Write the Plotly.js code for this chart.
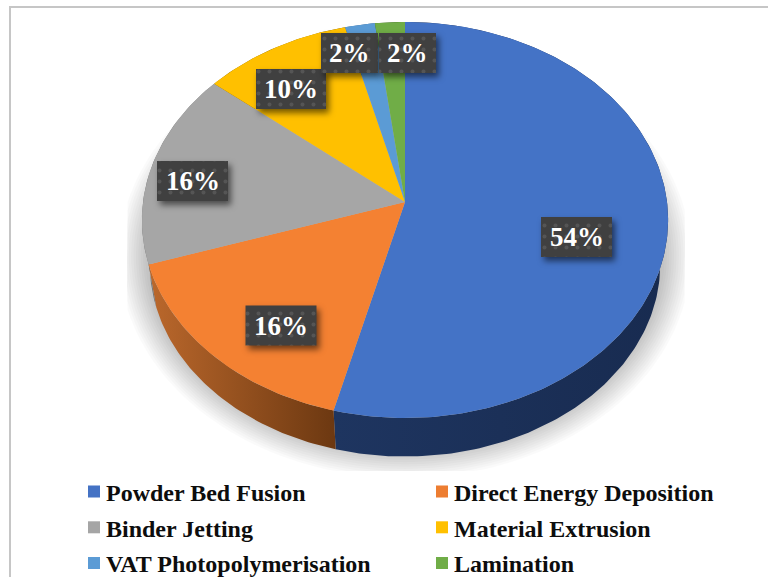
<!DOCTYPE html>
<html>
<head>
<meta charset="utf-8">
<script src="https://cdn.plot.ly/plotly-3.0.0.min.js"></script>
<style>html,body{margin:0;padding:0;background:#fff}#chart{width:768px;height:577px}</style>
</head>
<body>
<div id="chart"></div>
<script>
// Share of additive manufacturing processes
const categories = ['Powder Bed Fusion', 'Direct Energy Deposition', 'Binder Jetting',
                    'Material Extrusion', 'VAT Photopolymerisation', 'Lamination'];
const shares = [54, 16, 16, 10, 2, 2];

const topColors = ['#4473c6', '#f48132', '#a6a6a6', '#ffc000', '#5b9bd5', '#70ad47'];
const swatchColors = ['#4472c4', '#ed7d31', '#a5a5a5', '#ffc000', '#5b9bd5', '#70ad47'];
const wallColors = [['#1e3560', '#182b50'], ['#bb682c', '#6c3811'], ['#6f6f6f', '#8a8a8a'],
                    ['#806000', '#806000'], ['#2e5a86', '#2e5a86'], ['#3a5a24', '#3a5a24']];

// Label box centres in page pixels
const labelX = [576.5, 281, 192.5, 291, 349.5, 407.5];
const labelY = [237, 325.5, 181, 89, 53, 53];
const labelW = [71, 71, 71, 70, 57, 57];
const labelH = 40;

// Disc projection: the pie is seen in perspective from above the front edge
const cx = 405, topY = 202, radiusX = 262, radiusY = 196.4, tilt = 0.0909;
const baseScale = 0.97, baseY = 247;

function rim(frac, scale, originY) {
  const a = frac * 2 * Math.PI, u = Math.sin(a), v = Math.cos(a), w = 1 + tilt * v;
  return [cx + scale * radiusX * u / w, originY - scale * radiusY * v / w];
}
function arc(f0, f1, scale, originY) {
  const pts = [], n = Math.max(4, Math.ceil((f1 - f0) * 360));
  for (let i = 0; i <= n; i++) pts.push(rim(f0 + (f1 - f0) * i / n, scale, originY));
  return pts;
}
function area(pts, extra) {
  return Object.assign({
    x: pts.map(p => p[0]), y: pts.map(p => p[1]), type: 'scatter', mode: 'lines',
    fill: 'toself', line: {width: 0}, hoverinfo: 'skip', showlegend: false
  }, extra);
}

const traces = [];

// Soft ground shadow, cut off by the chart's plot box
const shadowSteps = 16;
for (let i = 0; i < shadowSteps; i++) {
  const t = i / (shadowSteps - 1), a = 286 - 36 * t, b = 222 - 34 * t, pts = [];
  for (let k = 0; k <= 180; k++) {
    const g = k / 180 * 2 * Math.PI;
    pts.push([Math.min(685, Math.max(127, 405 + a * Math.cos(g))),
              Math.min(471, 256 + b * Math.sin(g))]);
  }
  traces.push(area(pts, {fillcolor: 'rgba(0,0,0,0.02)'}));
}

// Side walls, then the top faces
const total = shares.reduce((s, v) => s + v, 0);
let run = 0;
const spans = shares.map(v => { const s = [run / total, (run + v) / total]; run += v; return s; });
spans.forEach((s, i) => {
  const pts = arc(s[0], s[1], 1, topY).concat(arc(s[0], s[1], baseScale, baseY).reverse());
  const leftToRight = [[0, wallColors[i][0]], [1, wallColors[i][1]]];
  traces.push(area(pts, {
    fillcolor: wallColors[i][1],
    fillgradient: {type: 'horizontal', colorscale: leftToRight}
  }));
});
spans.forEach((s, i) => {
  traces.push(area([[cx, topY]].concat(arc(s[0], s[1], 1, topY)), {fillcolor: topColors[i]}));
});

// Dark label plates
const plateStart = traces.length;
shares.forEach((v, i) => {
  const l = labelX[i] - labelW[i] / 2, r = labelX[i] + labelW[i] / 2;
  const t = labelY[i] - labelH / 2, b = labelY[i] + labelH / 2;
  traces.push(area([[l, t], [r, t], [r, b], [l, b], [l, t]], {
    fillcolor: '#404040',
    fillpattern: {shape: '.', bgcolor: '#404040', fgcolor: '#555555', size: 11, solidity: 0.1}
  }));
});

// Legend entries, one column per legend
categories.forEach((name, i) => {
  traces.push({
    x: [null], y: [null], type: 'scatter', mode: 'markers', name: name,
    legend: i % 2 ? 'legend2' : 'legend', legendgroup: 'g' + i,
    marker: {symbol: 'square', size: 12, color: swatchColors[i]}, hoverinfo: 'skip'
  });
});

const legendFont = {family: '"Liberation Serif", serif', size: 24, color: '#0d0d0d', weight: 700};
const legendBase = {
  y: 1 - 469.5 / 577, yanchor: 'top', xanchor: 'left', orientation: 'v',
  bgcolor: 'rgba(0,0,0,0)', font: legendFont, tracegroupgap: 1.5, itemclick: false, itemdoubleclick: false
};

const layout = {
  width: 768, height: 577, autosize: false, paper_bgcolor: '#fff', plot_bgcolor: '#fff',
  margin: {l: 0, r: 0, t: 0, b: 0, pad: 0, autoexpand: false},
  xaxis: {range: [0, 768], visible: false, fixedrange: true},
  yaxis: {range: [577, 0], visible: false, fixedrange: true},
  showlegend: true,
  legend: Object.assign({x: 66 / 768}, legendBase),
  legend2: Object.assign({x: 414 / 768}, legendBase),
  shapes: [
    {type: 'line', xref: 'x', yref: 'y', x0: 9, x1: 768, y0: 7, y1: 7, line: {color: '#c6c6c6', width: 2}},
    {type: 'line', xref: 'x', yref: 'y', x0: 10, x1: 10, y0: 6, y1: 577, line: {color: '#c6c6c6', width: 2}}
  ],
  annotations: shares.map((v, i) => ({
    x: labelX[i], y: labelY[i], xref: 'x', yref: 'y', text: v + '%', showarrow: false,
    font: {family: '"Liberation Serif", serif', size: 27, color: '#ffffff', weight: 700},
    xanchor: 'center', yanchor: 'middle'
  }))
};

Plotly.newPlot('chart', traces, layout, {displayModeBar: false}).then(gd => {
  // Drop shadow under the label plates
  const groups = gd.querySelectorAll('.scatterlayer .trace');
  for (let i = plateStart; i < plateStart + shares.length; i++) {
    if (groups[i]) groups[i].style.filter = 'drop-shadow(3px 4px 3px rgba(0,0,0,0.55))';
  }
  // Pull the legend swatches closer to their text
  gd.querySelectorAll('.legendsymbols').forEach(g => {
    g.setAttribute('transform', 'translate(8,0)');
  });
});
</script>
</body>
</html>
